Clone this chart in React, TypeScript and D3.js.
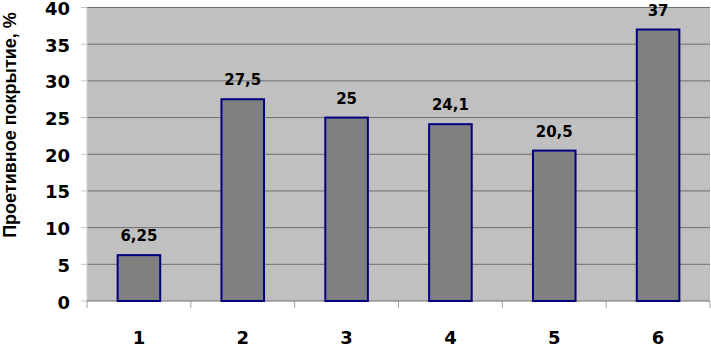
import { useEffect, useRef } from "react";
import * as d3 from "d3";

const categories = ["1", "2", "3", "4", "5", "6"];
const values = [6.25, 27.5, 25, 24.1, 20.5, 37];
const valueLabels = ["6,25", "27,5", "25", "24,1", "20,5", "37"];
const yTicks = [0, 5, 10, 15, 20, 25, 30, 35, 40];
const yTitle = "Проетивное покрытие, %";

export default function App() {
  const svgRef = useRef<SVGSVGElement | null>(null);

  useEffect(() => {
    if (!svgRef.current) return;
    const root = d3.select(svgRef.current);
    root.selectAll("*").remove();

    const left = 87, right = 710, top = 7.5, bottom = 301;
    const digitFont = "'DejaVu Sans', Verdana, sans-serif";

    const x = d3.scaleBand<string>().domain(categories).range([left, right]).padding(0);
    const y = d3.scaleLinear().domain([0, 40]).range([bottom, top]);
    const barW = x.bandwidth() * 0.41;

    // plot area
    root.append("rect")
      .attr("x", left).attr("y", top)
      .attr("width", right - left).attr("height", bottom - top)
      .attr("fill", "#c0c0c0");

    // gridlines
    root.append("g").selectAll("line")
      .data(yTicks.filter(d => d > 0))
      .enter().append("line")
      .attr("x1", left).attr("x2", right)
      .attr("y1", d => y(d)).attr("y2", d => y(d))
      .attr("stroke", "#6e6e6e").attr("stroke-width", 1);

    // y axis ticks (light)
    root.append("g").selectAll("line")
      .data(yTicks)
      .enter().append("line")
      .attr("x1", left - 6).attr("x2", left)
      .attr("y1", d => y(d)).attr("y2", d => y(d))
      .attr("stroke", "#c8c8c8").attr("stroke-width", 1);

    root.append("line")
      .attr("x1", left).attr("x2", left)
      .attr("y1", top).attr("y2", bottom)
      .attr("stroke", "#d0d0d0");

    // x axis line and ticks at category boundaries
    root.append("line")
      .attr("x1", left).attr("x2", right)
      .attr("y1", bottom).attr("y2", bottom)
      .attr("stroke", "#6e6e6e");
    const bounds = categories.map(c => x(c) as number).concat([right]);
    root.append("g").selectAll("line")
      .data(bounds)
      .enter().append("line")
      .attr("x1", d => d).attr("x2", d => d)
      .attr("y1", bottom).attr("y2", bottom + 7)
      .attr("stroke", "#a0a0a0");

    // bars
    root.append("g").selectAll("rect")
      .data(values)
      .enter().append("rect")
      .attr("x", (d, i) => (x(categories[i]) as number) + x.bandwidth() / 2 - barW / 2)
      .attr("y", d => y(d))
      .attr("width", barW)
      .attr("height", d => bottom - y(d))
      .attr("fill", "#808080")
      .attr("stroke", "#000080")
      .attr("stroke-width", 2);

    // value labels
    root.append("g").selectAll("text")
      .data(values)
      .enter().append("text")
      .attr("x", (d, i) => (x(categories[i]) as number) + x.bandwidth() / 2)
      .attr("y", d => y(d) - 14)
      .attr("text-anchor", "middle")
      .attr("font-family", digitFont)
      .attr("font-weight", "bold")
      .attr("font-size", 15)
      .attr("fill", "#000")
      .text((d, i) => valueLabels[i]);

    // y tick labels
    root.append("g").selectAll("text")
      .data(yTicks)
      .enter().append("text")
      .attr("x", 70)
      .attr("y", d => y(d) + 7.5)
      .attr("text-anchor", "end")
      .attr("font-family", digitFont)
      .attr("font-weight", "bold")
      .attr("font-size", 18)
      .attr("fill", "#000")
      .text(d => String(d));

    // x tick labels
    root.append("g").selectAll("text")
      .data(categories)
      .enter().append("text")
      .attr("x", d => (x(d) as number) + x.bandwidth() / 2)
      .attr("y", 344)
      .attr("text-anchor", "middle")
      .attr("font-family", digitFont)
      .attr("font-weight", "bold")
      .attr("font-size", 18)
      .attr("fill", "#000")
      .text(d => d);

    // y title
    root.append("text")
      .attr("transform", "translate(16,125) rotate(-90)")
      .attr("text-anchor", "middle")
      .attr("font-family", "'Liberation Sans', Arial, sans-serif")
      .attr("font-weight", "bold")
      .attr("font-size", 18)
      .attr("fill", "#000")
      .text(yTitle);
  }, []);

  return (
    <svg
      ref={svgRef}
      width={711}
      height={347}
      style={{ position: "absolute", left: 0, top: 0, background: "#fff" }}
    />
  );
}
